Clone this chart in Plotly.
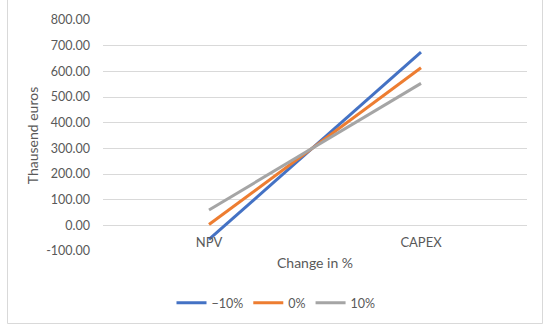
import plotly.graph_objects as go

categories = ["NPV", "CAPEX"]
series_names = ["−10%", "0%", "10%"]
minus10 = [-55, 675]
zero = [3, 614]
plus10 = [60, 553]
y_tick_vals = [-100, 0, 100, 200, 300, 400, 500, 600, 700, 800]
y_tick_text = ["-100.00", "0.00", "100.00", "200.00", "300.00", "400.00",
               "500.00", "600.00", "700.00", "800.00"]

colors = ["#4472C4", "#ED7D31", "#A5A5A5"]
FONT = "Lato, 'Open Sans', sans-serif"
TXT = "#595959"

fig = go.Figure()
for name, vals, c in zip(series_names, [minus10, zero, plus10], colors):
    fig.add_trace(go.Scatter(x=categories, y=vals, mode="lines", name=name,
                             line=dict(color=c, width=3)))

L, R, T, B = 103, 23, 20, 80
W, H = 550, 331
pw, ph = W - L - R, H - T - B

def px_x(p):
    return (p - L) / pw

def px_y(p):
    return (H - B - p) / ph

fig.update_layout(
    width=W, height=H,
    margin=dict(l=L, r=R, t=T, b=B),
    paper_bgcolor="white", plot_bgcolor="white",
    font=dict(family=FONT, size=13, color=TXT),
    showlegend=True,
    legend=dict(orientation="h", x=px_x(276), xanchor="center",
                y=px_y(303), yanchor="middle",
                font=dict(family=FONT, size=12.5, color=TXT),
                itemwidth=30, tracegroupgap=0),
    xaxis=dict(type="category", range=[-0.5, 1.5], showgrid=False,
               zeroline=False, showline=False, ticks="",
               anchor="free", position=100 / 900,
               ticklabelstandoff=8,
               tickfont=dict(family=FONT, size=13, color=TXT),
               title=dict(text="Change in %", standoff=8,
                          font=dict(family=FONT, size=14, color=TXT))),
    yaxis=dict(range=[-100, 800], tickvals=y_tick_vals, ticktext=y_tick_text,
               showgrid=True, gridcolor="#D9D9D9", gridwidth=1,
               zeroline=False, showline=False, ticks="",
               ticklabelstandoff=12,
               tickfont=dict(family=FONT, size=12.5, color=TXT),
               title=dict(text="Thausend euros", standoff=4,
                          font=dict(family=FONT, size=14, color=TXT))),
    shapes=[dict(type="rect", xref="paper", yref="paper",
                 x0=px_x(7.5), x1=px_x(542.5), y0=px_y(323.5), y1=px_y(-1),
                 line=dict(color="#D9D9D9", width=1), layer="below")],
)

fig.write_html("out.html", config={"displayModeBar": False},
               post_script="document.body.style.margin='0';")
